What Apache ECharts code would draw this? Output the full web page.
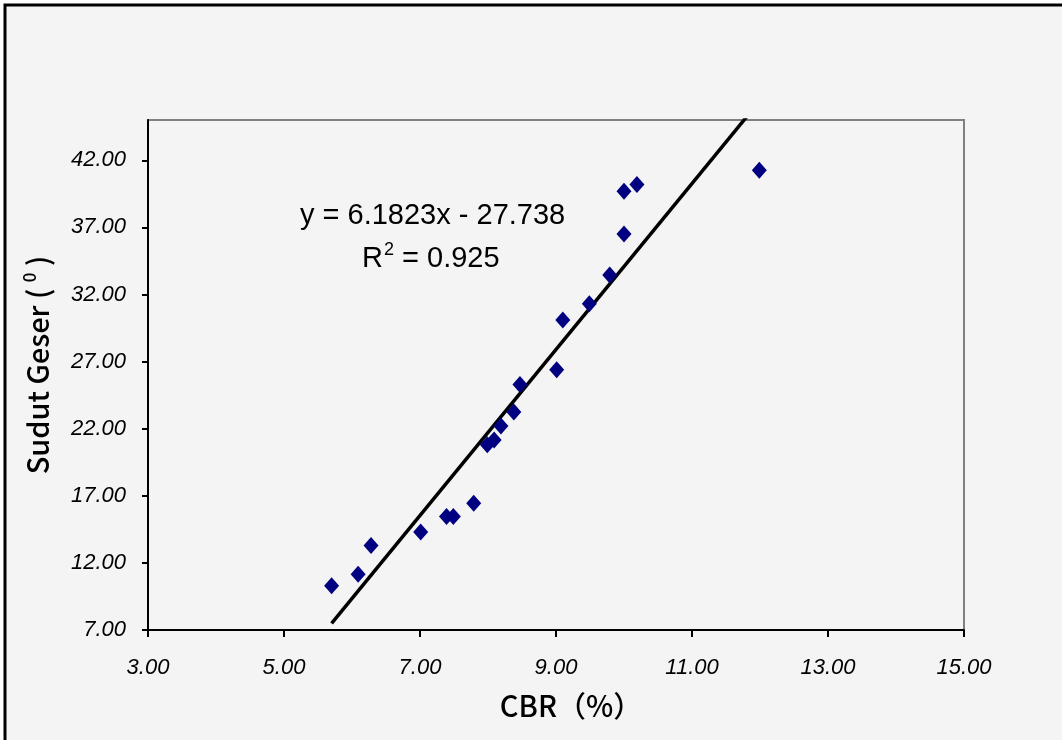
<!DOCTYPE html>
<html>
<head>
<meta charset="utf-8">
<script src="https://cdn.jsdelivr.net/npm/echarts@6/dist/echarts.min.js"></script>
<style>
  html, body { margin: 0; padding: 0; background: #fff; }
  #chart { width: 1062px; height: 740px; }
</style>
</head>
<body>
<div id="chart"></div>
<script>
// CBR (%) vs sudut geser
const cbr = [5.70, 6.09, 6.28, 7.01, 7.39, 7.49, 7.79, 7.99, 8.09, 8.19, 8.38, 8.47, 9.01, 9.10, 9.49, 9.79, 10.00, 10.00, 10.19, 11.99]
const sudutGeser = [10.30, 11.15, 13.30, 14.30, 15.45, 15.45, 16.45, 20.80, 21.15, 22.20, 23.25, 25.30, 26.40, 30.10, 31.30, 33.45, 36.50, 39.70, 40.20, 41.25]

const xTicks = [3, 5, 7, 9, 11, 13, 15]
const yTicks = [7, 12, 17, 22, 27, 32, 37, 42]

// linear trendline from the equation printed on the chart
const slope = 6.1823
const intercept = -27.738
const xMin = Math.min(...cbr)
const xMax = Math.max(...cbr)
const trend = [[xMin, slope * xMin + intercept], [xMax, slope * xMax + intercept]]

const chart = echarts.init(document.getElementById('chart'))

const sans = 'Liberation Sans, Arial, sans-serif'
const titleFont = 'Noto Sans CJK SC, DejaVu Sans Condensed, sans-serif'

const labelFont = {
  color: '#000',
  fontFamily: sans,
  fontStyle: 'italic',
  fontSize: 22,
}

chart.setOption({
  backgroundColor: '#fff',
  animation: false,
  graphic: [
    {
      type: 'rect',
      z: -10,
      silent: true,
      shape: { x: 5, y: 5, width: 1200, height: 1000 },
      style: { fill: '#f4f4f4', stroke: '#000', lineWidth: 3 },
    },
    {
      type: 'text',
      left: 300,
      top: 201,
      style: {
        text: 'y = 6.1823x - 27.738',
        fontFamily: sans,
        fontSize: 29,
        fill: '#000',
      },
    },
    {
      type: 'text',
      left: 362,
      top: 241,
      style: {
        text: '{a|R}{s|2}{a| = 0.925}',
        rich: {
          a: { fontFamily: sans, fontSize: 29, color: '#000' },
          s: { fontFamily: sans, fontSize: 18, color: '#000', verticalAlign: 'top', padding: [0, 0, 18, 1] },
        },
      },
    },
  ],
  grid: {
    left: 148,
    right: 98,
    top: 120,
    bottom: 110,
    show: true,
    backgroundColor: '#f4f4f4',
    borderColor: '#808080',
    borderWidth: 2,
  },
  xAxis: {
    type: 'value',
    min: 3,
    max: 15,
    interval: 2,
    name: 'CBR（%）',
    nameLocation: 'middle',
    nameGap: 61,
    nameTextStyle: {
      fontFamily: titleFont,
      fontSize: 29,
      fontWeight: 500,
      color: '#000',
      padding: [0, 0, 0, 30],
    },
    axisLine: { onZero: false, lineStyle: { color: '#000', width: 2 } },
    axisTick: { show: true, length: 7, lineStyle: { color: '#000', width: 2 }, customValues: xTicks },
    axisLabel: {
      ...labelFont,
      margin: 27,
      customValues: xTicks,
      formatter: v => v.toFixed(2),
    },
    splitLine: { show: false },
  },
  yAxis: {
    type: 'value',
    min: 7,
    max: 45,
    interval: 5,
    name: '{a|Sudut Geser ( }{s|0}{a| )}',
    nameLocation: 'middle',
    nameGap: 94,
    nameRotate: 90,
    nameTextStyle: {
      padding: [0, 0, 0, 20],
      rich: {
        a: { fontFamily: titleFont, fontSize: 29, fontWeight: 500, color: '#000' },
        s: { fontFamily: titleFont, fontSize: 17, fontWeight: 500, color: '#000', verticalAlign: 'top', padding: [0, 0, 16, 0] },
      },
    },
    axisLine: { onZero: false, lineStyle: { color: '#000', width: 2 } },
    axisTick: { show: true, length: 6, lineStyle: { color: '#000', width: 2 }, customValues: yTicks },
    axisLabel: {
      ...labelFont,
      margin: 22,
      customValues: yTicks,
      formatter: v => v.toFixed(2),
    },
    splitLine: { show: false },
  },
  series: [
    {
      type: 'line',
      data: trend,
      showSymbol: false,
      symbol: 'none',
      clip: true,
      lineStyle: { color: '#000', width: 3.5 },
      z: 2,
    },
    {
      type: 'scatter',
      data: cbr.map((x, i) => [x, sudutGeser[i]]),
      symbol: 'diamond',
      symbolSize: [15, 17],
      itemStyle: { color: '#000080', opacity: 1 },
      z: 3,
    },
  ],
})
</script>
</body>
</html>
